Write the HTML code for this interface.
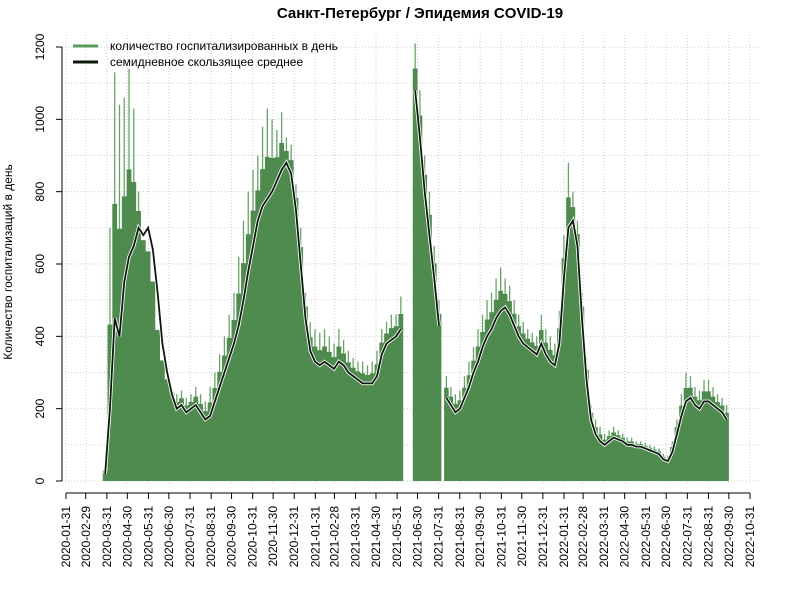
<!DOCTYPE html>
<html><head><meta charset="utf-8"><style>
body{margin:0;background:#fff}
svg{display:block;font-family:"Liberation Sans","DejaVu Sans",sans-serif}
</style></head><body>
<svg id="c" width="789" height="589" viewBox="0 0 789 589">
<text x="420" y="18" text-anchor="middle" font-size="15" font-weight="bold">Санкт-Петербург / Эпидемия COVID-19</text>
<text transform="translate(12,262) rotate(-90)" text-anchor="middle" font-size="12">Количество госпитализаций в день</text>
<g id="grid"></g>
<g id="bars"></g>
<g id="lines"></g>
<g id="axes"></g>
<g>
<line x1="73" y1="46" x2="98" y2="46" stroke="#5a9a5a" stroke-width="3"/>
<text x="110" y="50" font-size="12">количество госпитализированных в день</text>
<line x1="73" y1="62" x2="98" y2="62" stroke="#0a1a0a" stroke-width="3"/>
<text x="110" y="66" font-size="12">семидневное скользящее среднее</text>
</g>
</svg>
<script>
const tickLabels=["2020-01-31","2020-02-29","2020-03-31","2020-04-30","2020-05-31","2020-06-30","2020-07-31","2020-08-31","2020-09-30","2020-10-31","2020-11-30","2020-12-31","2021-01-31","2021-02-28","2021-03-31","2021-04-30","2021-05-31","2021-06-30","2021-07-31","2021-08-31","2021-09-30","2021-10-31","2021-11-30","2021-12-31","2022-01-31","2022-02-28","2022-03-31","2022-04-30","2022-05-31","2022-06-30","2022-07-31","2022-08-31","2022-09-30","2022-10-31"];
const yTicks=[0,200,400,600,800,1000,1200];
const segStarts=["2020-03-25","2021-06-23","2021-08-08"];
const segEnds=["2021-06-09","2021-08-04","2022-09-30"];
const seg1Mean=[20,200,450,400,550,620,650,700,680,700,640,520,380,300,240,200,210,190,200,210,190,170,180,220,260,300,340,380,430,500,580,650,720,760,780,800,830,860,880,850,750,600,450,360,330,320,330,320,310,330,320,300,290,280,270,270,270,290,350,380,390,400,420];
const seg2Mean=[1080,950,800,680,560,430];
const seg3Mean=[230,210,190,200,230,260,300,330,370,400,420,450,470,480,460,430,400,380,370,360,350,380,350,330,320,380,560,700,720,650,450,280,170,130,110,100,110,120,115,110,100,100,95,95,90,85,80,75,60,55,80,130,180,220,230,210,200,220,220,210,200,190,170];
const seg1Peak=[40,700,1130,1040,1060,1140,1030,800,650,560,450,300,280,260,250,240,250,230,240,260,240,220,260,300,350,400,460,520,620,720,800,860,900,980,1030,1000,970,1020,950,930,820,700,520,440,420,410,420,400,380,420,390,360,340,330,330,320,330,360,420,440,460,460,510];
const seg2Peak=[1210,1080,900,800,650,500];
const seg3Peak=[290,260,240,250,290,330,370,420,460,500,520,560,590,560,540,500,460,440,420,410,400,460,420,400,380,470,680,880,800,720,520,340,210,170,150,130,140,150,140,130,120,120,110,110,105,100,95,90,75,70,110,170,240,300,290,260,250,280,280,260,240,230,210];
const NS='http://www.w3.org/2000/svg';
const t0=Date.UTC(2020,0,31), t1=Date.UTC(2022,9,31);
function day(s){const p=s.split('-');return Date.UTC(+p[0],+p[1]-1,+p[2]);}
function X(s){return 66+(day(s)-t0)/(t1-t0)*684;}
function Xt(t){return 66+(t-t0)/(t1-t0)*684;}
function Y(v){return 481-v*(434/1200);}
function mk(tag,attrs,parent){const e=document.createElementNS(NS,tag);for(const k in attrs)e.setAttribute(k,attrs[k]);parent.appendChild(e);return e;}
const grid=document.getElementById('grid'),axes=document.getElementById('axes'),bars=document.getElementById('bars'),lines=document.getElementById('lines');
for(let v=0;v<=1200;v+=100){const l=mk('line',{x1:62,x2:760,y1:Y(v),y2:Y(v),stroke:'#ccc','stroke-dasharray':'1,2'},grid);

}
tickLabels.forEach(s=>{const l=mk('line',{x1:X(s),x2:X(s),y1:35,y2:485,stroke:'#ccc','stroke-dasharray':'1,2'},grid);

});
const means=[seg1Mean,seg2Mean,seg3Mean],peaks=[seg1Peak,seg2Peak,seg3Peak];
means.forEach((m,i)=>{
 const s=day(segStarts[i]),e=day(segEnds[i]);
 const wk=(e-s)/m.length;
 let dp='M'+Xt(s)+','+Y(0);
 peaks[i].forEach((p,j)=>{const a=s+j*wk,b=Math.min(s+(j+1)*wk,e);
  const l=mk('line',{x1:(Xt(a)+Xt(b))/2,x2:(Xt(a)+Xt(b))/2,y1:Y(0),y2:Y(p),stroke:'#6aa36a','stroke-width':1.3},bars);
  
  });
 m.forEach((v,j)=>{const a=s+j*wk,b=Math.min(s+(j+1)*wk,e);const h=(v+(peaks[i][j]||v))/2*0.93+v*0.07;dp+=' L'+Xt(a)+','+Y(h)+' L'+Xt(b)+','+Y(h);});
 dp+=' L'+Xt(e)+','+Y(0)+'Z';
 const a=mk('path',{d:dp,fill:'#4f8b4f'},bars);
 
 
 let lp='';m.forEach((v,j)=>{const t=s+(j+0.5)*wk;lp+=(j?' L':'M')+Xt(Math.min(t,e))+','+Y(v);});
 const w=mk('path',{d:lp,fill:'none',stroke:'#fff','stroke-width':3.5},lines);
 
 
 const k=mk('path',{d:lp,fill:'none',stroke:'#0a1a0a','stroke-width':1.8},lines);
 
 
});
let ya=mk('line',{x1:62,x2:62,y1:Y(0),y2:Y(1200),stroke:'#000'},axes);


yTicks.forEach(v=>{const t=mk('line',{x1:56,x2:62,y1:Y(v),y2:Y(v),stroke:'#000'},axes);


const tx=mk('text',{transform:'translate(44,'+Y(v)+') rotate(-90)','text-anchor':'middle','font-size':12},axes);tx.textContent=v;

});
let xa=mk('line',{x1:X(tickLabels[0]),x2:X(tickLabels[tickLabels.length-1]),y1:493,y2:493,stroke:'#000'},axes);


tickLabels.forEach(s=>{const t=mk('line',{x1:X(s),x2:X(s),y1:493,y2:499,stroke:'#000'},axes);


const tx=mk('text',{transform:'translate('+(X(s)+4)+',506) rotate(-90)','text-anchor':'end','font-size':12},axes);tx.textContent=s;

});
</script>
</body></html>
